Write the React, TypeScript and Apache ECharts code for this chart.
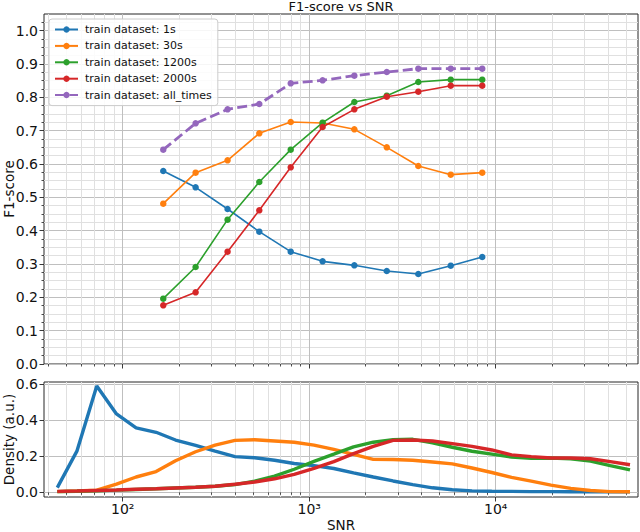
import React, { useEffect, useRef } from "react";
import * as echarts from "echarts";

// ---- data ----
const snrPoints = [165, 246, 365, 540, 796, 1180, 1746, 2606, 3846, 5741, 8470];
const f1_1s = [0.579, 0.530, 0.465, 0.397, 0.337, 0.308, 0.296, 0.279, 0.270, 0.295, 0.321];
const f1_30s = [0.481, 0.574, 0.611, 0.692, 0.726, 0.723, 0.704, 0.650, 0.594, 0.568, 0.574];
const f1_1200s = [0.196, 0.291, 0.433, 0.546, 0.643, 0.724, 0.786, 0.805, 0.846, 0.853, 0.853];
const f1_2000s = [0.176, 0.215, 0.337, 0.461, 0.590, 0.711, 0.764, 0.802, 0.817, 0.835, 0.835];
const f1_all = [0.643, 0.722, 0.764, 0.780, 0.842, 0.851, 0.865, 0.876, 0.886, 0.886, 0.886];

const densitySnr = [44.6, 56.9, 72.6, 92.6, 118, 151, 192, 246, 313, 400, 510, 652, 831, 1061, 1355, 1729, 2206, 2815, 3592, 4584, 5850, 7466, 9527, 12160, 15510, 19800, 25260, 32240, 41140, 52500];
const dens_1s = [0.026, 0.23, 0.59, 0.435, 0.358, 0.333, 0.29, 0.26, 0.228, 0.198, 0.192, 0.178, 0.16, 0.148, 0.132, 0.108, 0.085, 0.063, 0.043, 0.025, 0.014, 0.008, 0.006, 0.005, 0.004, 0.004, 0.003, 0.003, 0.003, 0.003];
const dens_30s = [0.004, 0.007, 0.012, 0.045, 0.085, 0.115, 0.175, 0.225, 0.262, 0.288, 0.292, 0.285, 0.278, 0.262, 0.238, 0.21, 0.183, 0.182, 0.178, 0.168, 0.158, 0.135, 0.11, 0.083, 0.062, 0.04, 0.022, 0.01, 0.004, 0.003];
const dens_1200s = [0.004, 0.006, 0.009, 0.012, 0.016, 0.02, 0.024, 0.028, 0.034, 0.043, 0.062, 0.09, 0.128, 0.172, 0.212, 0.252, 0.278, 0.292, 0.294, 0.275, 0.25, 0.228, 0.212, 0.196, 0.189, 0.19, 0.186, 0.173, 0.148, 0.124];
const dens_2000s = [0.005, 0.007, 0.01, 0.013, 0.017, 0.02, 0.024, 0.028, 0.034, 0.045, 0.057, 0.075, 0.1, 0.133, 0.17, 0.215, 0.255, 0.288, 0.29, 0.285, 0.27, 0.255, 0.235, 0.208, 0.198, 0.19, 0.19, 0.186, 0.17, 0.153];

const seriesNames = [
  "train dataset: 1s",
  "train dataset: 30s",
  "train dataset: 1200s",
  "train dataset: 2000s",
  "train dataset: all_times",
];
const colors = ["#1f77b4", "#ff7f0e", "#2ca02c", "#d62728", "#9467bd"];

const xMajorTicks = [100, 1000, 10000];
const xMinorTicks = [40, 50, 60, 70, 80, 90, 200, 300, 400, 500, 600, 700, 800, 900, 2000, 3000, 4000, 5000, 6000, 7000, 8000, 9000, 20000, 30000, 40000, 50000];
const yTicksTop = [0, 0.1, 0.2, 0.3, 0.4, 0.5, 0.6, 0.7, 0.8, 0.9, 1.0];
const yMinorTop = [0.025, 0.05, 0.075, 0.125, 0.15, 0.175, 0.225, 0.25, 0.275, 0.325, 0.35, 0.375, 0.425, 0.45, 0.475, 0.525, 0.55, 0.575, 0.625, 0.65, 0.675, 0.725, 0.75, 0.775, 0.825, 0.85, 0.875, 0.925, 0.95, 0.975, 1.025];
const yTicksBottom = [0, 0.2, 0.4, 0.6];

const lg = (v: number) => Math.log10(v);
const X_MIN = 1.578;
const X_MAX = 4.763;
const FONT = "'DejaVu Sans', sans-serif";
const SUP: Record<string, string> = { "2": "\u00b2", "3": "\u00b3", "4": "\u2074" };

const majorGrid = { show: true, lineStyle: { color: "#bfbfbf", width: 1 } };
const minorGrid = { show: true, lineStyle: { color: "#e0e0e0", width: 1 } };
const tickColor = "#222";

function xAxisPair(gridIndex: number, withLabels: boolean) {
  return [
    {
      gridIndex, type: "value", min: X_MIN, max: X_MAX, position: "bottom",
      axisLine: { show: false },
      axisTick: { show: true, customValues: xMinorTicks.map(lg), length: 2.5, lineStyle: { color: tickColor, width: 0.8 } },
      axisLabel: { show: false },
      splitLine: minorGrid,
    },
    {
      gridIndex, type: "value", min: X_MIN, max: X_MAX, position: "bottom",
      axisLine: { show: false },
      axisTick: { show: true, customValues: xMajorTicks.map(lg), length: 4.5, lineStyle: { color: tickColor, width: 0.9 } },
      axisLabel: {
        show: withLabels,
        customValues: xMajorTicks.map(lg),
        margin: 5,
        fontSize: 14,
        fontFamily: FONT,
        color: "#111",
        formatter: (v: number) => "10" + (SUP[String(Math.round(v))] || ""),
      },
      splitLine: majorGrid,
      name: withLabels ? "SNR" : "",
      nameLocation: "middle",
      nameGap: 21,
      nameMoveOverlap: false,
      nameTextStyle: { fontSize: 13.5, fontFamily: FONT, color: "#111" },
    },
  ];
}

export default function App() {
  const ref = useRef<HTMLDivElement>(null);
  useEffect(() => {
    if (!ref.current) return;
    const chart = echarts.init(ref.current, undefined, { renderer: "svg" });
    const topSets = [f1_1s, f1_30s, f1_1200s, f1_2000s, f1_all];
    const densSets = [dens_1s, dens_30s, dens_1200s, dens_2000s];

    const topSeries = topSets.map((arr, i) => ({
      name: seriesNames[i],
      type: "line",
      xAxisIndex: 1,
      yAxisIndex: 1,
      data: snrPoints.map((x, j) => [lg(x), arr[j]]),
      symbol: "circle",
      symbolSize: 6.5,
      color: colors[i],
      itemStyle: { color: colors[i] },
      lineStyle: i === 4 ? { color: colors[i], width: 2.8, type: [10, 4.4] } : { color: colors[i], width: 1.6 },
      z: 3 + i,
    }));
    const bottomSeries = densSets.map((arr, i) => ({
      name: "density " + i,
      type: "line",
      xAxisIndex: 3,
      yAxisIndex: 2,
      data: densitySnr.map((x, j) => [lg(x), arr[j]]),
      symbol: "none",
      showSymbol: false,
      color: colors[i],
      lineStyle: { color: colors[i], width: 3.4 },
      z: 3 + i,
    }));

    chart.setOption({
      animation: false,
      backgroundColor: "#ffffff",
      textStyle: { fontFamily: FONT },
      title: {
        text: "F1-score vs SNR",
        left: 341,
        textAlign: "center",
        top: 0,
        padding: 0,
        textStyle: { fontSize: 13, fontWeight: "normal", color: "#111", fontFamily: FONT },
      },
      legend: {
        data: seriesNames,
        orient: "vertical",
        left: 49,
        top: 19,
        padding: [4, 6, 4, 5],
        itemWidth: 23,
        itemHeight: 8,
        itemGap: 3.4,
        backgroundColor: "rgba(255,255,255,0.85)",
        borderColor: "#cccccc",
        borderWidth: 1,
        borderRadius: 3,
        textStyle: { fontSize: 11, fontFamily: FONT, color: "#111", lineHeight: 13, padding: [0, 0, 0, 2] },
      },
      grid: [
        { left: 44, top: 14, width: 594, height: 350, show: true, borderColor: "#262626", borderWidth: 1, backgroundColor: "transparent", containLabel: false, outerBoundsMode: "none" },
        { left: 44, top: 382, width: 594, height: 115, show: true, borderColor: "#262626", borderWidth: 1, backgroundColor: "transparent", containLabel: false, outerBoundsMode: "none" },
      ],
      xAxis: [...xAxisPair(0, false), ...xAxisPair(1, true)],
      yAxis: [
        {
          gridIndex: 0, type: "value", min: 0, max: 1.05, position: "left",
          axisLine: { show: false },
          axisTick: { show: true, customValues: yMinorTop, length: 2.5, lineStyle: { color: tickColor, width: 0.8 } },
          axisLabel: { show: false },
          splitLine: minorGrid,
        },
        {
          gridIndex: 0, type: "value", min: 0, max: 1.05, position: "left",
          axisLine: { show: false },
          axisTick: { show: true, customValues: yTicksTop, length: 4.5, lineStyle: { color: tickColor, width: 0.9 } },
          axisLabel: {
            customValues: yTicksTop, margin: 6, fontSize: 14, fontFamily: FONT, color: "#111",
            formatter: (v: number) => v.toFixed(1),
          },
          splitLine: majorGrid,
          name: "F1-score",
          nameLocation: "middle",
          nameRotate: 90,
          nameGap: 28,
          nameMoveOverlap: false,
          nameTextStyle: { fontSize: 13.5, fontFamily: FONT, color: "#111" },
        },
        {
          gridIndex: 1, type: "value", min: -0.026, max: 0.612, position: "left",
          axisLine: { show: false },
          axisTick: { show: true, customValues: yTicksBottom, length: 4.5, lineStyle: { color: tickColor, width: 0.9 } },
          axisLabel: {
            customValues: yTicksBottom, margin: 6, fontSize: 14, fontFamily: FONT, color: "#111",
            formatter: (v: number) => v.toFixed(1),
          },
          splitLine: majorGrid,
          name: "Density (a.u.)",
          nameLocation: "middle",
          nameRotate: 90,
          nameGap: 28,
          nameMoveOverlap: false,
          nameTextStyle: { fontSize: 13.5, fontFamily: FONT, color: "#111" },
        },
      ],
      series: [...topSeries, ...bottomSeries],
    });
    return () => chart.dispose();
  }, []);
  return (
    <div
      ref={ref}
      style={{ position: "fixed", left: 0, top: 0, width: 640, height: 532, background: "#fff" }}
    />
  );
}
